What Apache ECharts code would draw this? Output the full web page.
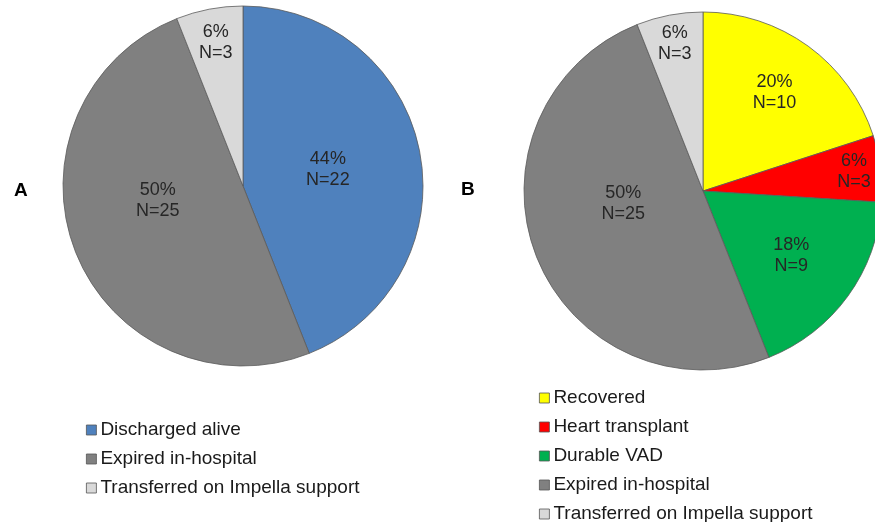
<!DOCTYPE html>
<html>
<head>
<meta charset="utf-8">
<script src="https://cdn.jsdelivr.net/npm/echarts@6/dist/echarts.min.js"></script>
<style>html,body{margin:0;padding:0;background:#fff;}#c{width:875px;height:522px;}</style>
</head>
<body>
<div id="c"></div>
<script>
// Data
const categoriesA = ['Discharged alive', 'Expired in-hospital', 'Transferred on Impella support'];
const valuesA = [22, 25, 3];
const categoriesB = ['Recovered', 'Heart transplant', 'Durable VAD', 'Expired in-hospital', 'Transferred on Impella support'];
const valuesB = [10, 3, 9, 25, 3];

// Styles
const colorMap = {
  'Discharged alive': '#4F81BD',
  'Expired in-hospital': '#808080',
  'Transferred on Impella support': '#D9D9D9',
  'Recovered': '#FFFF00',
  'Heart transplant': '#FF0000',
  'Durable VAD': '#00B050'
};
// label placement: radial fraction and angular nudge (degrees) per slice
const labelFracA = [0.48, 0.48, 0.81];
const labelTurnA = [0, 12, 0];
const labelFracB = [0.68, 0.85, 0.61, 0.45, 0.84];
const labelTurnB = [0, 0, 0, 13, 0];
const pieA = {cx: 243, cy: 186, r: 180};
const pieB = {cx: 703, cy: 191, r: 179};
const FONT = 'Liberation Sans, Arial, sans-serif';

function makeLayout(values, geo, fracs, turns) {
  const total = values.reduce((a, b) => a + b, 0);
  return function (p) {
    const i = p.dataIndex;
    let before = 0;
    for (let k = 0; k < i; k++) before += values[k];
    const mid = (before + values[i] / 2) / total * Math.PI * 2 + turns[i] * Math.PI / 180;
    const rr = geo.r * fracs[i];
    return {
      x: geo.cx + Math.sin(mid) * rr,
      y: geo.cy - Math.cos(mid) * rr,
      align: 'center',
      verticalAlign: 'middle'
    };
  };
}

function pieSeries(name, cats, vals, geo, fracs, turns) {
  return {
    name: name,
    type: 'pie',
    center: [geo.cx, geo.cy],
    radius: [0, geo.r],
    startAngle: 90,
    clockwise: true,
    percentPrecision: 0,
    animation: false,
    silent: true,
    data: cats.map((c, i) => ({name: c, value: vals[i], itemStyle: {color: colorMap[c]}})),
    itemStyle: {borderColor: '#5a5a5a', borderWidth: 0.8},
    label: {
      show: true,
      position: 'inside',
      formatter: '{d}%\nN={c}',
      color: '#262626',
      fontFamily: FONT,
      fontSize: 18,
      lineHeight: 21
    },
    labelLine: {show: false},
    labelLayout: makeLayout(vals, geo, fracs, turns),
    emphasis: {disabled: true}
  };
}

function legendCfg(cats, left, top) {
  return {
    orient: 'vertical',
    left: left,
    top: top,
    height: 200,
    icon: 'rect',
    itemWidth: 10,
    itemHeight: 10,
    itemGap: 9,
    selectedMode: false,
    data: cats.map(c => ({name: c, itemStyle: {color: colorMap[c], borderColor: '#555', borderWidth: 0.8}})),
    textStyle: {fontFamily: FONT, fontSize: 19, color: '#1a1a1a', lineHeight: 20, padding: [0, 0, 0, -1]}
  };
}

const chart = echarts.init(document.getElementById('c'), null, {renderer: 'canvas'});
chart.setOption({
  backgroundColor: '#ffffff',
  title: [
    {text: 'A', left: 9, top: 176, textStyle: {fontFamily: FONT, fontSize: 19, fontWeight: 'bold', color: '#000'}},
    {text: 'B', left: 456, top: 175, textStyle: {fontFamily: FONT, fontSize: 19, fontWeight: 'bold', color: '#000'}}
  ],
  legend: [
    legendCfg(categoriesA, 81, 415),
    legendCfg(categoriesB, 534, 383)
  ],
  series: [
    pieSeries('A', categoriesA, valuesA, pieA, labelFracA, labelTurnA),
    pieSeries('B', categoriesB, valuesB, pieB, labelFracB, labelTurnB)
  ]
});
</script>
</body>
</html>
